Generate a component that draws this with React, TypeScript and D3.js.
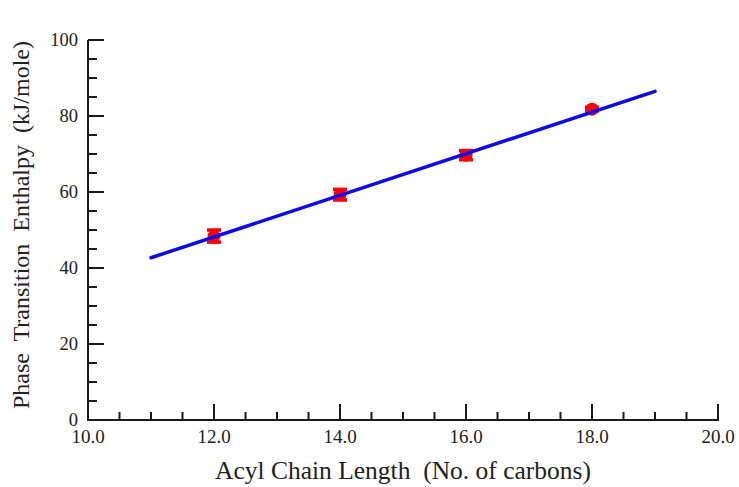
import React from "react";
import * as d3 from "d3";

const chainLength = [12, 14, 16, 18];
const enthalpy = [48.4, 59.3, 69.7, 81.8];
const enthalpyErr = [1.6, 1.4, 1.2, 0.5];
const fitX = [11, 19];
const fitY = [42.7, 86.5];
const xMajorTicks = [10, 12, 14, 16, 18, 20];
const yMajorTicks = [0, 20, 40, 60, 80, 100];

const W = 739;
const H = 487;
const left = 88;
const right = 718;
const top = 40;
const bottom = 420;

export default function App() {
  const x = d3.scaleLinear().domain([10, 20]).range([left, right]);
  const y = d3.scaleLinear().domain([0, 100]).range([bottom, top]);
  const xMinor = d3.range(10, 20.001, 0.5).filter((v) => !xMajorTicks.includes(v));
  const yMinor = d3.range(0, 100.001, 5).filter((v) => !yMajorTicks.includes(v));
  const line = d3
    .line<number>()
    .x((_, i) => x(fitX[i]))
    .y((d) => y(d));
  const axisColor = "#1a1a1a";
  const font = "'Liberation Serif', 'Times New Roman', serif";

  return (
    <svg
      width={W}
      height={H}
      style={{ position: "absolute", left: 0, top: 0, background: "#fff" }}
    >
      <rect x={0} y={0} width={W} height={H} fill="#fff" />
      {/* axes */}
      <path
        d={`M${left},${top} L${left},${bottom} L${right},${bottom} L${right},${bottom - 16}`}
        fill="none"
        stroke={axisColor}
        strokeWidth={2}
      />
      <line x1={left} x2={left + 16} y1={top} y2={top} stroke={axisColor} strokeWidth={2} />
      {yMajorTicks.map((v) => (
        <g key={"ym" + v}>
          <line x1={left} x2={left + 16} y1={y(v)} y2={y(v)} stroke={axisColor} strokeWidth={2} />
          <text
            x={78}
            y={y(v)}
            dy="0.35em"
            textAnchor="end"
            fontFamily={font}
            fontSize={18.5}
            fill="#222"
          >
            {v}
          </text>
        </g>
      ))}
      {yMinor.map((v) => (
        <line key={"yn" + v} x1={left} x2={left + 9} y1={y(v)} y2={y(v)} stroke={axisColor} strokeWidth={2} />
      ))}
      {xMajorTicks.map((v) => (
        <g key={"xm" + v}>
          <line x1={x(v)} x2={x(v)} y1={bottom} y2={bottom - 16} stroke={axisColor} strokeWidth={2} />
          <text
            x={x(v)}
            y={443}
            textAnchor="middle"
            fontFamily={font}
            fontSize={19}
            fill="#222"
          >
            {v.toFixed(1)}
          </text>
        </g>
      ))}
      {xMinor.map((v) => (
        <line key={"xn" + v} x1={x(v)} x2={x(v)} y1={bottom} y2={bottom - 8} stroke={axisColor} strokeWidth={2} />
      ))}
      {/* data with error bars */}
      {chainLength.map((c, i) => {
        const cx = x(c);
        const cy = y(enthalpy[i]);
        const y0 = y(enthalpy[i] - enthalpyErr[i]);
        const y1 = y(enthalpy[i] + enthalpyErr[i]);
        return (
          <g key={"pt" + c} fill="#ff0000" stroke="#ff0000">
            <line x1={cx} x2={cx} y1={y0} y2={y1} strokeWidth={9} />
            <line x1={cx - 7} x2={cx + 7} y1={y0} y2={y0} strokeWidth={3.5} />
            <line x1={cx - 7} x2={cx + 7} y1={y1} y2={y1} strokeWidth={3.5} />
            <circle cx={cx} cy={cy} r={6.5} stroke="none" />
          </g>
        );
      })}
      {/* fit line */}
      <path d={line(fitY) || ""} fill="none" stroke="#0a0af0" strokeWidth={3.5} strokeLinecap="round" />
      {/* titles */}
      <text
        x={403}
        y={479}
        textAnchor="middle"
        fontFamily={font}
        fontSize={25.5}
        fill="#222"
        style={{ whiteSpace: "pre" }}
      >
        {"Acyl Chain Length  (No. of carbons)"}
      </text>
      <text
        transform={`translate(29,${225}) rotate(-90)`}
        textAnchor="middle"
        fontFamily={font}
        fontSize={24}
        fill="#222"
        style={{ whiteSpace: "pre" }}
      >
        {"Phase  Transition  Enthalpy  (kJ/mole)"}
      </text>
    </svg>
  );
}
